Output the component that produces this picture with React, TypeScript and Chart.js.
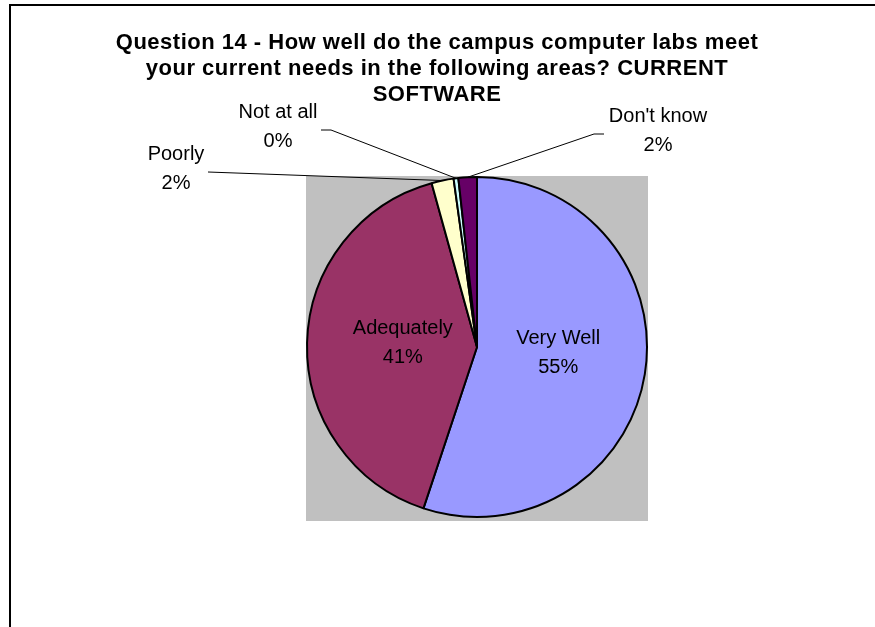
import React, { useEffect, useRef } from 'react';
import { Chart, registerables } from 'chart.js';

Chart.register(...registerables);

// ---- data ----
const categories: string[] = ['Very Well', 'Adequately', 'Poorly', 'Not at all', "Don't know"];
const values: number[] = [55.1, 40.6, 2.1, 0.45, 1.75];
const sliceColors: string[] = ['#9999FF', '#993366', '#FFFFCC', '#CCFFFF', '#660066'];
const titleLines: string[] = [
  'Question 14 - How well do the campus computer labs meet',
  'your current needs in the following areas? CURRENT',
  'SOFTWARE',
];

// ---- style / layout ----
const W = 875;
const H = 627;
const FONT = '"Liberation Sans", Arial, Helvetica, sans-serif';
const LABEL_SIZE = 20;
const LABEL_LINE = 29;
const TITLE_SIZE = 22;
const TITLE_LINE = 26;
const TITLE_X = 437;
const TITLE_Y0 = 43;
const PLOT_BG = { x0: 306, y0: 176, x1: 648, y1: 521 };

// inside labels: radial fraction + nudge
const INSIDE_FRAC = 0.46;
const insideNudge: Record<number, [number, number]> = { 0: [4, -6], 1: [4, -2] };
// outside labels: label block centre and leader path, relative to pie centre
const outsideLabels: Record<number, { c: [number, number]; path: [number, number][] }> = {
  2: { c: [-301, -178], path: [[-269, -175]] },
  3: { c: [-199, -220], path: [[-156, -217], [-146, -217]] },
  4: { c: [181, -216], path: [[127, -213], [117, -213]] },
};

const total = values.reduce((a, b) => a + b, 0);
const pctText = (v: number) => `${Math.round((v / total) * 100)}%`;

const decorPlugin = {
  id: 'decor',
  beforeDraw(chart: any) {
    const ctx = chart.ctx as CanvasRenderingContext2D;
    ctx.save();
    ctx.fillStyle = '#FFFFFF';
    ctx.fillRect(0, 0, W, H);
    ctx.fillStyle = '#C0C0C0';
    ctx.fillRect(PLOT_BG.x0, PLOT_BG.y0, PLOT_BG.x1 - PLOT_BG.x0, PLOT_BG.y1 - PLOT_BG.y0);
    // outer chart border (top + left visible)
    ctx.strokeStyle = '#000000';
    ctx.lineWidth = 2;
    ctx.beginPath();
    ctx.moveTo(10, H + 2);
    ctx.lineTo(10, 5);
    ctx.lineTo(W + 2, 5);
    ctx.stroke();
    ctx.restore();
  },
  afterDraw(chart: any) {
    const ctx = chart.ctx as CanvasRenderingContext2D;
    const meta = chart.getDatasetMeta(0);
    ctx.save();
    // title
    ctx.fillStyle = '#000000';
    ctx.textAlign = 'center';
    ctx.textBaseline = 'middle';
    ctx.font = `bold ${TITLE_SIZE}px ${FONT}`;
    (ctx as any).letterSpacing = '0.5px';
    titleLines.forEach((t, i) => ctx.fillText(t, TITLE_X, TITLE_Y0 + i * TITLE_LINE));
    (ctx as any).letterSpacing = '0px';

    ctx.font = `${LABEL_SIZE}px ${FONT}`;
    meta.data.forEach((arc: any, i: number) => {
      const { x, y, startAngle, endAngle, outerRadius } = arc.getProps(
        ['x', 'y', 'startAngle', 'endAngle', 'outerRadius'],
        true
      );
      const mid = (startAngle + endAngle) / 2;
      const lines = [categories[i], pctText(values[i])];
      let cx: number;
      let cy: number;
      if (outsideLabels[i]) {
        const o = outsideLabels[i];
        cx = x + o.c[0];
        cy = y + o.c[1];
        // leader line
        ctx.strokeStyle = '#000000';
        ctx.lineWidth = 1;
        ctx.beginPath();
        o.path.forEach((p, k) => {
          if (k === 0) ctx.moveTo(x + p[0], y + p[1]);
          else ctx.lineTo(x + p[0], y + p[1]);
        });
        ctx.lineTo(x + Math.cos(mid) * outerRadius, y + Math.sin(mid) * outerRadius);
        ctx.stroke();
      } else {
        const n = insideNudge[i] || [0, 0];
        cx = x + Math.cos(mid) * outerRadius * INSIDE_FRAC + n[0];
        cy = y + Math.sin(mid) * outerRadius * INSIDE_FRAC + n[1];
      }
      ctx.fillStyle = '#000000';
      lines.forEach((t, k) => {
        ctx.fillText(t, cx, cy + (k - (lines.length - 1) / 2) * LABEL_LINE);
      });
    });
    ctx.restore();
  },
};

export default function App() {
  const ref = useRef<HTMLCanvasElement | null>(null);
  useEffect(() => {
    if (!ref.current) return;
    const chart = new Chart(ref.current, {
      type: 'pie',
      data: {
        labels: categories,
        datasets: [
          {
            data: values,
            backgroundColor: sliceColors,
            borderColor: '#000000',
            borderWidth: 2,
          },
        ],
      },
      options: {
        responsive: false,
        animation: false,
        devicePixelRatio: 1,
        layout: { padding: { left: 306, right: 227, top: 176, bottom: 109 } },
        plugins: {
          legend: { display: false },
          title: { display: false },
          tooltip: { enabled: false },
        },
      },
      plugins: [decorPlugin],
    });
    return () => chart.destroy();
  }, []);
  return (
    <div style={{ position: 'absolute', left: 0, top: 0, width: W, height: H }}>
      <canvas ref={ref} width={W} height={H} style={{ width: W, height: H, display: 'block' }} />
    </div>
  );
}
